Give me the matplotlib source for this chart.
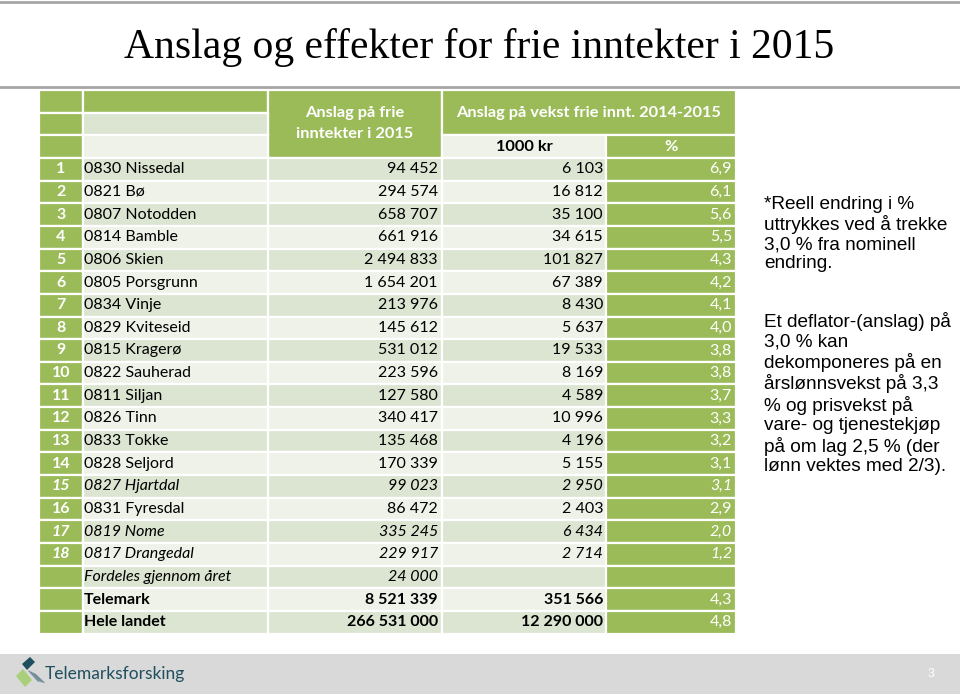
import matplotlib.pyplot as plt
from matplotlib.patches import Rectangle, Polygon

# table data
nums = [str(i) for i in range(1, 19)] + ['', '', '']
names = ['0830 Nissedal', '0821 Bø', '0807 Notodden', '0814 Bamble', '0806 Skien',
         '0805 Porsgrunn', '0834 Vinje', '0829 Kviteseid', '0815 Kragerø',
         '0822 Sauherad', '0811 Siljan', '0826 Tinn', '0833 Tokke', '0828 Seljord',
         '0827 Hjartdal', '0831 Fyresdal', '0819 Nome', '0817 Drangedal',
         'Fordeles gjennom året', 'Telemark', 'Hele landet']
frie_inntekter = ['94 452', '294 574', '658 707', '661 916', '2 494 833', '1 654 201',
                  '213 976', '145 612', '531 012', '223 596', '127 580', '340 417',
                  '135 468', '170 339', '99 023', '86 472', '335 245', '229 917',
                  '24 000', '8 521 339', '266 531 000']
vekst_kr = ['6 103', '16 812', '35 100', '34 615', '101 827', '67 389', '8 430',
            '5 637', '19 533', '8 169', '4 589', '10 996', '4 196', '5 155',
            '2 950', '2 403', '6 434', '2 714', '', '351 566', '12 290 000']
vekst_pct = ['6,9', '6,1', '5,6', '5,5', '4,3', '4,2', '4,1', '4,0', '3,8', '3,8',
             '3,7', '3,3', '3,2', '3,1', '3,1', '2,9', '2,0', '1,2', '', '4,3', '4,8']

italic_rows = [14, 16, 17, 18]
bold_rows = [19, 20]

GREEN = '#9bbb59'
BAND1 = '#dce5d2'
BAND2 = '#eef2e9'
FONT = 'Lato'
FS = 11.5
HFS = 11.8

fig = plt.figure(figsize=(9.6, 6.94), dpi=100)
ax = fig.add_axes([0, 0, 1, 1])
ax.set_xlim(0, 960)
ax.set_ylim(694, 0)
ax.axis('off')

# slide frame lines
ax.plot([0, 960], [2, 2], color='#a6a6a6', lw=2)
ax.plot([0, 960], [87, 87], color='#a6a6a6', lw=2)

ax.text(479, 47, 'Anslag og effekter for frie inntekter i 2015', ha='center', va='center',
        fontsize=30, family='Liberation Serif', color='black')

xs = [39, 83, 268, 442, 606, 736]
top = 90
rh = 22.65


def cell(c0, c1, r0, nrows, color):
    x0, x1 = xs[c0], xs[c1]
    y0 = top + r0 * rh
    ax.add_patch(Rectangle((x0, y0), x1 - x0, nrows * rh, facecolor=color,
                           edgecolor='white', lw=1.6))


# header block
cell(0, 1, 0, 1, GREEN)
cell(1, 2, 0, 1, GREEN)
cell(2, 3, 0, 3, GREEN)
cell(3, 5, 0, 2, GREEN)
cell(0, 1, 1, 1, GREEN)
cell(1, 2, 1, 1, BAND1)
cell(0, 1, 2, 1, GREEN)
cell(1, 2, 2, 1, BAND2)
cell(3, 4, 2, 1, BAND2)
cell(4, 5, 2, 1, GREEN)

ax.text((xs[2] + xs[3]) / 2, 113, 'Anslag på frie', ha='center', va='center',
        color='white', fontsize=HFS, weight='bold', family=FONT)
ax.text((xs[2] + xs[3]) / 2, 134, 'inntekter i 2015', ha='center', va='center',
        color='white', fontsize=HFS, weight='bold', family=FONT)
ax.text((xs[3] + xs[5]) / 2, 113, 'Anslag på vekst frie innt. 2014-2015', ha='center',
        va='center', color='white', fontsize=HFS, weight='bold', family=FONT)
ax.text((xs[3] + xs[4]) / 2, top + 2.5 * rh, '1000 kr', ha='center', va='center',
        color='black', fontsize=HFS, weight='bold', family=FONT)
ax.text((xs[4] + xs[5]) / 2, top + 2.5 * rh, '%', ha='center', va='center',
        color='white', fontsize=HFS, weight='bold', family=FONT)

for i in range(len(names)):
    r = i + 3
    band = BAND1 if i % 2 == 0 else BAND2
    cell(0, 1, r, 1, GREEN)
    cell(1, 2, r, 1, band)
    cell(2, 3, r, 1, band)
    cell(3, 4, r, 1, band)
    cell(4, 5, r, 1, GREEN)
    yc = top + (r + 0.5) * rh
    style = 'italic' if i in italic_rows else 'normal'
    weight = 'bold' if i in bold_rows else 'normal'
    kw = dict(va='center', fontsize=FS, family=FONT, style=style)
    ax.text(61, yc, nums[i], ha='center', color='white', weight='bold', **kw)
    ax.text(xs[1] + 1, yc, names[i], ha='left', color='black', weight=weight, **kw)
    ax.text(xs[3] - 4, yc, frie_inntekter[i], ha='right', color='black', weight=weight, **kw)
    ax.text(xs[4] - 3, yc, vekst_kr[i], ha='right', color='black', weight=weight, **kw)
    ax.text(xs[5] - 4, yc, vekst_pct[i], ha='right', color='white', **kw)

# side notes
ax.text(764, 196, '*Reell endring i %\nuttrykkes ved å trekke\n3,0 % fra nominell\nendring.',
        ha='left', va='top', fontsize=13.7, family='Liberation Sans', linespacing=1.15)
ax.text(764, 312, 'Et deflator-(anslag) på\n3,0 % kan\ndekomponeres på en\n'
        'årslønnsvekst på 3,3\n% og prisvekst på\nvare- og tjenestekjøp\n'
        'på om lag 2,5 % (der\nlønn vektes med 2/3).',
        ha='left', va='top', fontsize=13.7, family='Liberation Sans', linespacing=1.17)

# footer band
ax.add_patch(Rectangle((0, 654), 960, 40, facecolor='#d9d9d9', edgecolor='none'))
ax.add_patch(Polygon([[22, 664], [30, 657], [35, 662], [27, 670]], closed=True,
                     facecolor='#1f4e5f', edgecolor='none'))
ax.add_patch(Polygon([[16, 676], [23, 669], [32, 680], [25, 687]], closed=True,
                     facecolor='#a9cf7b', edgecolor='none'))
for k in range(4):
    ax.plot([29 + 2 * k, 38 + 2 * k], [671 + k, 681 + k * 0.5], color='#6d8a96', lw=0.8)
ax.text(45, 674, 'Telemarksforsking', ha='left', va='center', fontsize=12.5,
        family='Lato', color='#1f4e5f')
ax.text(931, 674, '3', ha='center', va='center', fontsize=9, color='white',
        family='Liberation Sans')

fig.savefig('out.png', dpi=100)
